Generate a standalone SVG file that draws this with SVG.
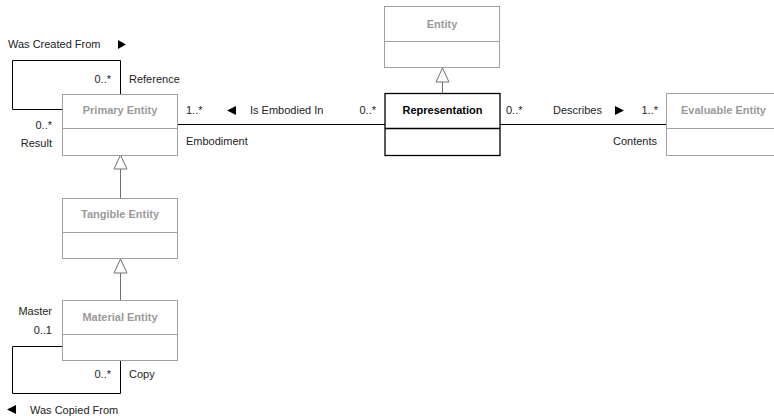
<svg xmlns="http://www.w3.org/2000/svg" width="774" height="416" viewBox="0 0 774 416">
  <style>
    .cls { fill: #ffffff; stroke: #a0a0a0; stroke-width: 1; }
    .cls-on { fill: #ffffff; stroke: #000000; stroke-width: 1.3; }
    .div { stroke: #a0a0a0; stroke-width: 1; }
    .div-on { stroke: #000000; stroke-width: 1.3; }
    .title { font-family: "Liberation Sans", Arial, sans-serif; font-size: 11px; font-weight: bold; fill: #9a9a9a; text-anchor: middle; }
    .title-on { fill: #000000; }
    .lbl { font-family: "Liberation Sans", Arial, sans-serif; font-size: 11px; fill: #222222; }
    .r { text-anchor: end; }
    .assoc { fill: none; stroke: #000000; stroke-width: 1; }
    .gen { fill: none; stroke: #707070; stroke-width: 1; }
    .genhead { fill: #ffffff; stroke: #707070; stroke-width: 1; }
    .dir { fill: #000000; }
  </style>

  <!-- associations and generalizations -->
  <g id="connectors">
    <!-- Was Created From (self association on Primary Entity) -->
    <polyline class="assoc" points="120.5,94 120.5,60.5 12.5,60.5 12.5,109.5 62,109.5"/>
    <!-- Is Embodied In -->
    <line class="assoc" x1="177" y1="124.5" x2="385" y2="124.5"/>
    <!-- Describes -->
    <line class="assoc" x1="500" y1="124.5" x2="666" y2="124.5"/>
    <!-- Was Copied From (self association on Material Entity) -->
    <polyline class="assoc" points="62,346.5 12.5,346.5 12.5,393.5 120.5,393.5 120.5,360"/>
    <!-- Representation generalizes Entity -->
    <line class="gen" x1="442.5" y1="82" x2="442.5" y2="93"/>
    <polygon class="genhead" points="442.5,68 449,82 436,82"/>
    <!-- Tangible Entity generalizes Primary Entity -->
    <line class="gen" x1="120.5" y1="169" x2="120.5" y2="198"/>
    <polygon class="genhead" points="120.5,155 127,169 114,169"/>
    <!-- Material Entity generalizes Tangible Entity -->
    <line class="gen" x1="120.5" y1="273" x2="120.5" y2="300"/>
    <polygon class="genhead" points="120.5,259 127,273 114,273"/>
  </g>

  <!-- association labels -->
  <g id="labels">
    <text class="lbl" x="8" y="48">Was Created From</text>
    <polygon class="dir" points="118,40 126,44.5 118,49"/>
    <text class="lbl r" x="111" y="83">0..*</text>
    <text class="lbl" x="129" y="83">Reference</text>
    <text class="lbl r" x="52" y="129">0..*</text>
    <text class="lbl r" x="52" y="147">Result</text>

    <text class="lbl" x="186" y="114">1..*</text>
    <polygon class="dir" points="236,106 236,115 227,110.5"/>
    <text class="lbl" x="250" y="114">Is Embodied In</text>
    <text class="lbl r" x="376" y="114">0..*</text>
    <text class="lbl" x="186" y="145">Embodiment</text>

    <text class="lbl" x="506" y="114">0..*</text>
    <text class="lbl" x="553" y="114">Describes</text>
    <polygon class="dir" points="615,106 624,110.5 615,115"/>
    <text class="lbl r" x="658" y="114">1..*</text>
    <text class="lbl r" x="657" y="145">Contents</text>

    <text class="lbl r" x="52" y="315">Master</text>
    <text class="lbl r" x="52" y="334">0..1</text>
    <text class="lbl r" x="111" y="378">0..*</text>
    <text class="lbl" x="129" y="378">Copy</text>
    <polygon class="dir" points="16,405 16,414 7,409.5"/>
    <text class="lbl" x="30" y="414">Was Copied From</text>
  </g>

  <g id="entity">
    <rect class="cls" x="384.5" y="6.5" width="115" height="61"/>
    <line class="div" x1="384.5" y1="41.5" x2="499.5" y2="41.5"/>
    <text class="title" x="442" y="28">Entity</text>
  </g>

  <g id="primary-entity">
    <rect class="cls" x="62.5" y="94.5" width="115" height="61"/>
    <line class="div" x1="62.5" y1="128.5" x2="177.5" y2="128.5"/>
    <text class="title" x="120" y="114">Primary Entity</text>
  </g>

  <g id="representation">
    <rect class="cls-on" x="385" y="93.5" width="115" height="62"/>
    <line class="div-on" x1="385" y1="128.5" x2="500" y2="128.5"/>
    <text class="title title-on" x="442.5" y="114">Representation</text>
  </g>

  <g id="evaluable-entity">
    <rect class="cls" x="666.5" y="93.5" width="115" height="62"/>
    <line class="div" x1="666.5" y1="128.5" x2="781.5" y2="128.5"/>
    <text class="title" x="723.5" y="114">Evaluable Entity</text>
  </g>

  <g id="tangible-entity">
    <rect class="cls" x="62.5" y="198.5" width="115" height="60"/>
    <line class="div" x1="62.5" y1="232.5" x2="177.5" y2="232.5"/>
    <text class="title" x="120" y="218">Tangible Entity</text>
  </g>

  <g id="material-entity">
    <rect class="cls" x="62.5" y="300.5" width="115" height="60"/>
    <line class="div" x1="62.5" y1="334.5" x2="177.5" y2="334.5"/>
    <text class="title" x="120" y="321">Material Entity</text>
  </g>
</svg>
